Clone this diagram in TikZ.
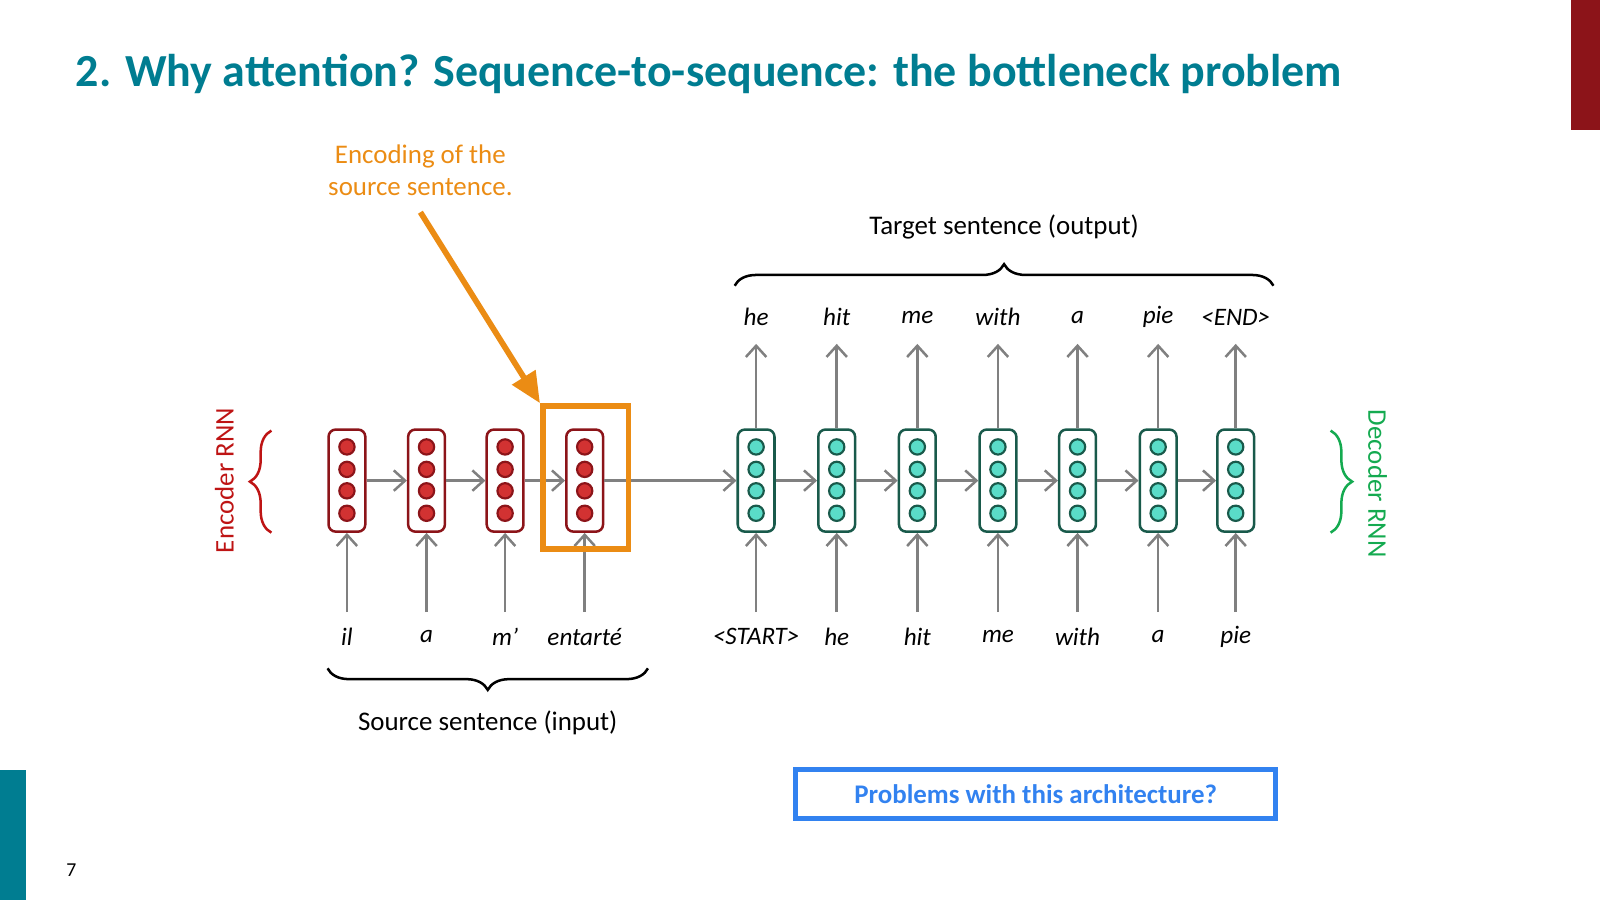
\documentclass[tikz,border=0pt]{standalone}
\usepackage{fontspec}
\setmainfont{Carlito}
\usetikzlibrary{arrows.meta, positioning, decorations.pathreplacing}
\definecolor{titleteal}{RGB}{0,125,145}
\definecolor{encred}{RGB}{140,20,25}
\definecolor{dotred}{RGB}{210,50,50}
\definecolor{decgreen}{RGB}{25,90,75}
\definecolor{dotgreen}{RGB}{90,220,200}
\definecolor{enclabel}{RGB}{190,20,20}
\definecolor{declabel}{RGB}{20,170,80}
\definecolor{hiorange}{RGB}{235,140,20}
\definecolor{qblue}{RGB}{50,130,240}
\tikzset{
    enccell/.style={rectangle, draw=encred, fill=white, rounded corners=2pt, line width=0.7pt, minimum width=0.36cm, minimum height=1.0cm},
    deccell/.style={rectangle, draw=decgreen, fill=white, rounded corners=2pt, line width=0.7pt, minimum width=0.36cm, minimum height=1.0cm},
    arrow/.style={draw=gray, line width=0.7pt, -{Straight Barb[length=1.1mm, width=2mm]}},
    word/.style={font=\fontsize{7}{8}\selectfont\itshape, inner sep=1pt},
    label/.style={font=\fontsize{7.5}{9}\selectfont, align=center},
    brace/.style={decorate, decoration={brace, amplitude=6pt}, line width=0.7pt}
}
\begin{document}
\begin{tikzpicture}[x=0.01cm, y=-0.01cm]
    \useasboundingbox (0,0) rectangle (1568,882);
    % Frame
    \fill[encred] (1540,0) rectangle (1568,127);
    \fill[titleteal] (0,755) rectangle (25,882);
    \node (title) [anchor=west, text=titleteal, font=\fontsize{12.8}{14}\selectfont\bfseries] at (62,72) {2. Why attention? Sequence-to-sequence: the bottleneck problem};
    \node (page) [font=\fontsize{5.5}{6}\selectfont] at (70,853) {7};
    % Encoder
    \foreach \i/\x/\w in {1/340/il, 2/418/a, 3/495/m’, 4/573/entarté} {
        \node (e\i) [enccell] at (\x,471) {};
        \foreach \y in {438,460,481,503}
            \draw[encred, fill=dotred, line width=0.6pt] (\x,\y) circle (7.5);
        \node (w\i) [word] at (\x,624) {\w};
        \draw [arrow] (w\i.north |- 0,600) -- (e\i);
    }
    % Decoder
    \foreach \i/\x/\w/\o in {1/741/<START>/he, 2/820/he/hit, 3/899/hit/me, 4/978/me/with, 5/1056/with/a, 6/1135/a/pie, 7/1211/pie/<END>} {
        \node (d\i) [deccell] at (\x,471) {};
        \foreach \y in {438,460,481,503}
            \draw[decgreen, fill=dotgreen, line width=0.6pt] (\x,\y) circle (7.5);
        \node (v\i) [word] at (\x,624) {\w};
        \node (o\i) [word] at (\x,311) {\o};
        \draw [arrow] (v\i.north |- 0,600) -- (d\i);
        \draw [arrow] (d\i) -- (o\i.south |- 0,337);
    }
    % Recurrence
    \draw [arrow] (e1) -- (e2);
    \draw [arrow] (e2) -- (e3);
    \draw [arrow] (e3) -- (e4);
    \draw [arrow] (e4) -- (d1);
    \foreach \i [evaluate=\i as \j using int(\i+1)] in {1,...,6}
        \draw [arrow] (d\i) -- (d\j);
    % Highlight
    \node (focus) [draw=hiorange, line width=1.6pt, minimum width=0.84cm, minimum height=1.4cm] at (574,468) {};
    \node (enc) [label, text=hiorange] at (412,167) {Encoding of the\\source sentence.};
    \draw [hiorange, line width=1.6pt, -{Triangle[length=3mm, width=2.6mm]}] (412,208) -- (focus.north west);
    % Braces
    \draw [brace] (720,280) -- (1248,280);
    \node (target) [label] at (984,222) {Target sentence (output)};
    \draw [brace] (635,655) -- (321,655);
    \node (source) [label] at (478,708) {Source sentence (input)};
    \draw [brace, enclabel] (266,522) -- (266,422);
    \node (encrnn) [label, text=enclabel, rotate=90] at (220,471) {Encoder RNN};
    \draw [brace, declabel] (1304,422) -- (1304,522);
    \node (decrnn) [label, text=declabel, rotate=-90] at (1350,474) {Decoder RNN};
    % Question
    \node (question) [draw=qblue, line width=1.4pt, minimum width=4.7cm, minimum height=0.48cm, text=qblue, font=\fontsize{7.5}{9}\selectfont\bfseries] at (1015,778) {Problems with this architecture?};
\end{tikzpicture}
\end{document}
